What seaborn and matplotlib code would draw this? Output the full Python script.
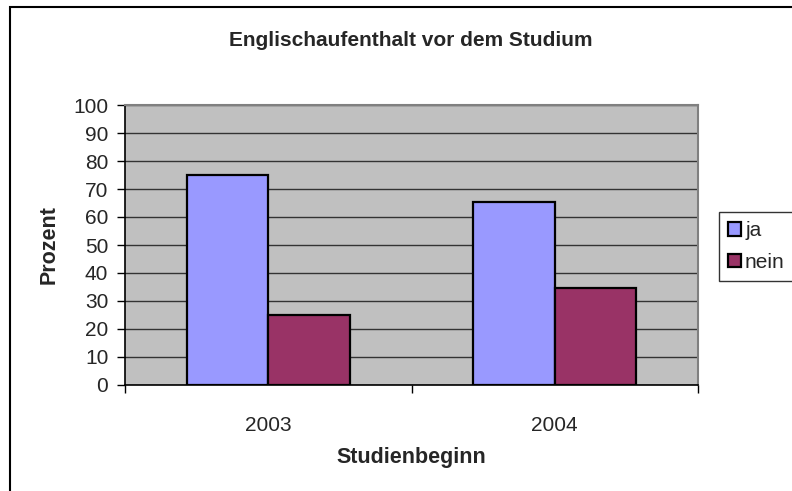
import matplotlib
matplotlib.use("Agg")
import matplotlib.pyplot as plt
import seaborn as sns
import pandas as pd
from matplotlib.patches import Patch, Rectangle

years = ["2003", "2004"]
ja = [75, 65.5]
nein = [25, 34.5]
answers = ["ja", "nein"]
colors = {"ja": "#9999FF", "nein": "#993366"}
yticks = [0, 10, 20, 30, 40, 50, 60, 70, 80, 90, 100]

df = pd.DataFrame({
    "Studienbeginn": years * 2,
    "Prozent": ja + nein,
    "Antwort": ["ja"] * len(years) + ["nein"] * len(years),
})

sns.set_theme(style="white")
plt.rcParams["font.family"] = ["Liberation Sans", "DejaVu Sans"]

fig = plt.figure(figsize=(7.92, 4.91), dpi=100)
W, H = 792, 491
ax = fig.add_axes([125 / W, 1 - 385 / H, (698 - 125) / W, (385 - 105) / H])
ax.set_facecolor("#C0C0C0")

sns.barplot(data=df, x="Studienbeginn", y="Prozent", hue="Antwort",
            hue_order=answers, palette=colors, width=0.57, gap=0,
            saturation=1, edgecolor="black", linewidth=1.6, ax=ax,
            legend=False, zorder=3)

ax.set_ylim(0, 100)
ax.set_xlim(-0.5, 1.5)
ax.set_yticks(yticks)
ax.set_yticklabels([str(v) for v in yticks], fontsize=15)
ax.yaxis.grid(True, color="#333333", linewidth=1.0, zorder=0)
ax.set_axisbelow(True)

# x ticks at category boundaries, labels at centers
ax.set_xticks([-0.5, 0.5, 1.5])
ax.set_xticklabels(["", "", ""])
ax.set_xticks([0, 1], minor=True)
ax.set_xticklabels(years, minor=True, fontsize=15)
ax.tick_params(axis="x", which="major", direction="out", length=6, width=1, color="black", bottom=True)
ax.tick_params(axis="x", which="minor", length=0, pad=22)
ax.tick_params(axis="y", direction="out", length=6, width=1, color="black", pad=6, left=True)

for s in ["left", "bottom"]:
    ax.spines[s].set_color("black")
    ax.spines[s].set_linewidth(1.2)
for s in ["top", "right"]:
    ax.spines[s].set_color("#808080")
    ax.spines[s].set_linewidth(1.5)

ax.set_xlabel("Studienbeginn", fontsize=15.5, fontweight="bold", labelpad=9)
ax.set_ylabel("Prozent", fontsize=15.5, fontweight="bold", labelpad=10)

fig.text(411 / W, 1 - 40 / H, "Englischaufenthalt vor dem Studium",
         ha="center", va="center", fontsize=15, fontweight="bold")

handles = [Patch(facecolor=colors[a], edgecolor="black", linewidth=1.6, label=a) for a in answers]
leg = fig.legend(handles=handles, loc="upper left",
                 bbox_to_anchor=(719 / W, 1 - 212 / H), fontsize=15,
                 frameon=True, fancybox=False, edgecolor="black",
                 handlelength=0.6, handleheight=0.6, handletextpad=0.2,
                 borderpad=0.45, labelspacing=0.6, borderaxespad=0)
leg.get_frame().set_linewidth(1.0)

# outer chart border
fig.patches.append(Rectangle((10 / W, -0.1), 1.2, 1 - 7 / H + 0.1,
                             transform=fig.transFigure, fill=False,
                             edgecolor="black", linewidth=1.5))

fig.savefig("out.png", dpi=100)
